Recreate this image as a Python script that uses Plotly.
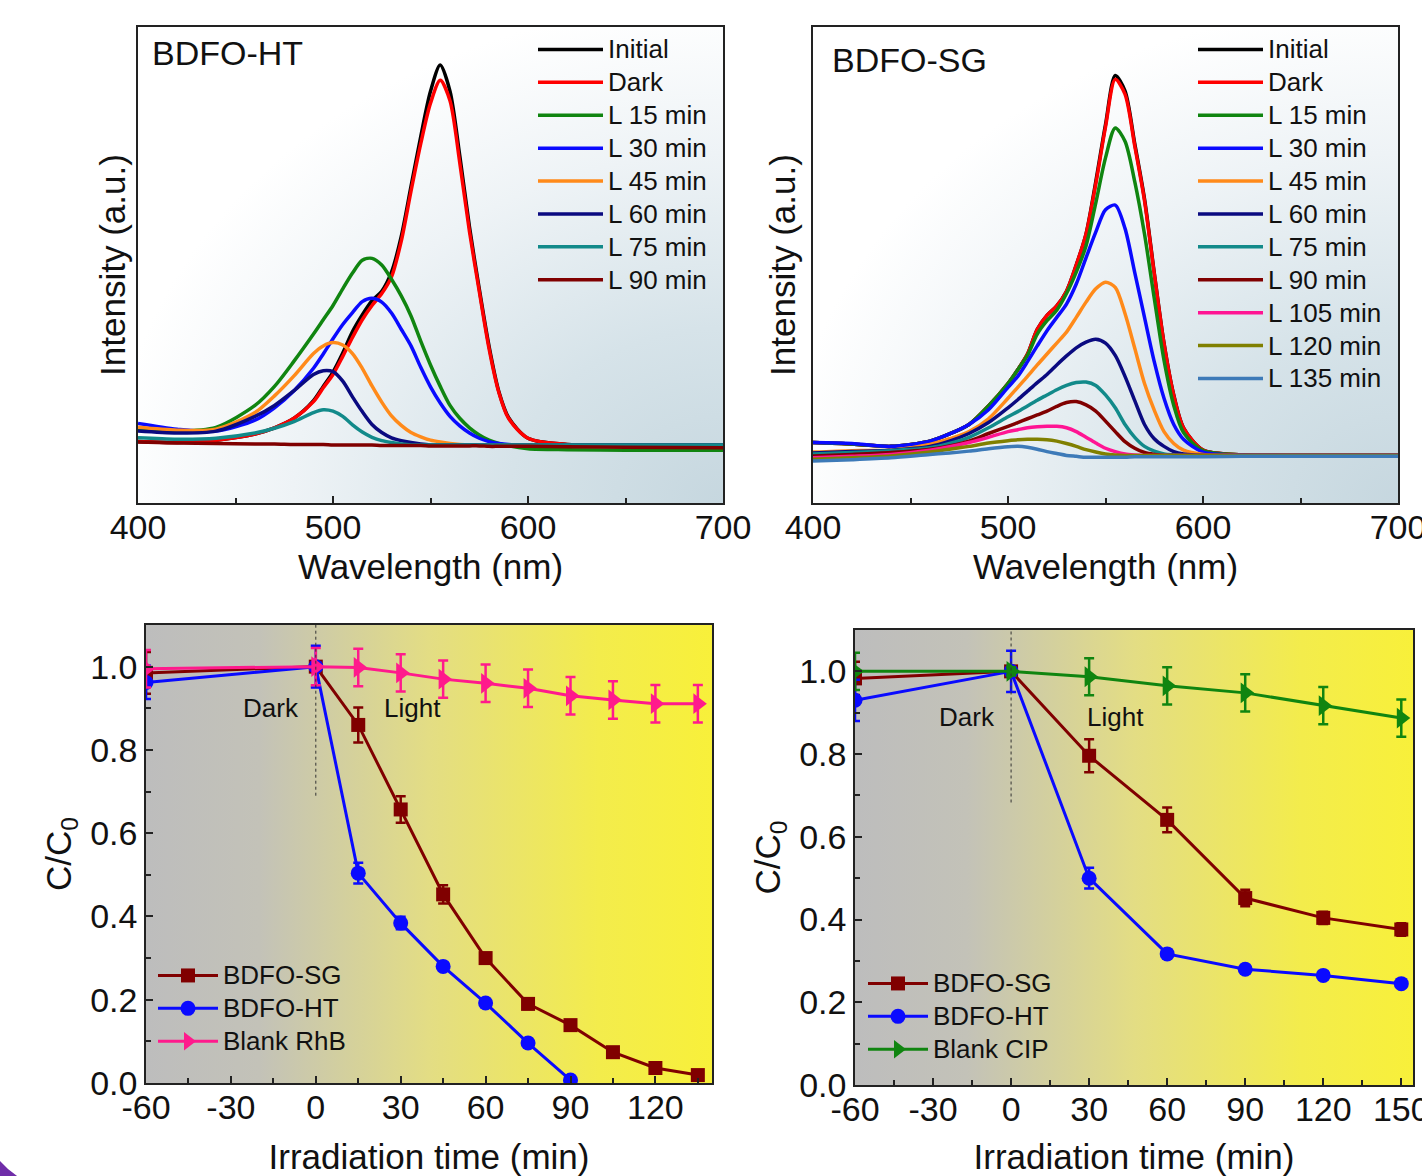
import base64
import plotly.graph_objects as go

# ---------------- data ----------------
# Top-left: BDFO-HT spectra (arbitrary intensity units)
wl_ht = [400, 420, 440, 460, 470, 480, 490, 495, 500, 505, 510, 515, 520, 525, 530,
         535, 540, 545, 550, 555, 560, 565, 570, 575, 580, 585, 590, 600, 620, 650, 700]
ht_initial = [12.9, 12.7, 13.2, 14.5, 15.8, 17.8, 21.5, 24.5, 27.5, 31.5, 36.0, 39.5, 42.5, 44.5, 48.5,
              56.0, 66.5, 77.0, 86.5, 92.0, 86.5, 73.0, 58.0, 45.0, 33.0, 23.5, 18.0, 13.6, 12.3, 12.2, 12.2]
ht_dark = [12.9, 12.7, 13.2, 14.5, 15.8, 17.8, 21.3, 24.2, 27.0, 30.8, 34.8, 38.5, 41.5, 44.0, 47.5,
           55.0, 65.5, 75.5, 84.0, 88.8, 84.5, 71.5, 57.0, 44.5, 32.5, 23.3, 17.8, 13.6, 12.3, 12.2, 12.2]
ht_l15 = [15.5, 15.1, 15.9, 20.5, 24.5, 29.8, 35.5, 38.5, 41.5, 45.0, 48.3, 51.0, 51.4, 50.0, 47.0,
          43.5, 39.3, 34.0, 29.0, 24.5, 20.5, 17.8, 15.8, 14.3, 13.2, 12.5, 12.0, 11.4, 11.2, 11.1, 11.1]
ht_l30 = [16.7, 15.5, 15.1, 17.4, 20.0, 23.6, 28.3, 31.3, 34.5, 37.5, 40.0, 42.3, 43.0, 42.2, 39.9,
          36.5, 33.0, 28.5, 24.4, 21.0, 18.2, 16.2, 14.7, 13.6, 12.9, 12.5, 12.3, 12.2, 12.2, 12.2, 12.2]
ht_l45 = [15.9, 15.3, 15.5, 19.0, 22.5, 26.7, 31.4, 33.0, 33.7, 33.2, 31.4, 28.3, 24.6, 21.2, 18.3,
          16.3, 14.8, 13.9, 13.2, 12.8, 12.5, 12.3, 12.2, 12.2, 12.2, 12.2, 12.2, 12.2, 12.2, 12.2, 12.2]
ht_l60 = [15.1, 14.7, 15.1, 18.2, 20.5, 23.6, 27.0, 27.8, 27.6, 25.6, 22.3, 19.2, 16.5, 14.8, 13.7,
          13.1, 12.7, 12.4, 12.2, 12.2, 12.2, 12.2, 12.2, 12.2, 12.2, 12.2, 12.2, 12.2, 12.2, 12.2, 12.2]
ht_l75 = [13.7, 13.4, 13.6, 14.7, 15.7, 17.1, 19.0, 19.6, 19.3, 18.2, 16.4, 14.9, 13.8, 13.1, 12.7,
          12.4, 12.2, 12.2, 12.2, 12.2, 12.2, 12.2, 12.2, 12.2, 12.2, 12.2, 12.2, 12.2, 12.2, 12.2, 12.2]
ht_l90 = [12.8, 12.6, 12.5, 12.4, 12.4, 12.3, 12.3, 12.3, 12.2, 12.2, 12.2, 12.2, 12.2, 12.1, 12.1,
          12.1, 12.1, 12.1, 12.0, 12.0, 12.0, 12.0, 12.0, 12.0, 11.9, 11.9, 11.9, 11.9, 11.8, 11.7, 11.6]

# Top-right: BDFO-SG spectra
wl_sg = [400, 420, 440, 460, 470, 480, 490, 500, 505, 510, 515, 520, 525, 530, 535, 540,
         545, 550, 555, 560, 565, 570, 575, 580, 585, 590, 600, 620, 650, 700]
sg_initial = [12.7, 12.4, 11.9, 13.0, 14.5, 16.5, 20.4, 25.1, 28.0, 31.3, 36.5, 39.4, 41.4, 44.5, 50.0, 56.5,
              67.5, 79.5, 89.8, 86.6, 75.5, 63.9, 48.4, 33.6, 22.7, 15.8, 11.1, 10.1, 10.0, 10.0]
sg_dark = [12.7, 12.4, 11.9, 13.0, 14.5, 16.5, 20.4, 25.1, 28.0, 31.3, 36.5, 39.4, 41.4, 44.5, 50.0, 56.5,
           67.0, 79.0, 89.0, 85.9, 75.0, 63.5, 48.2, 33.5, 22.6, 15.8, 11.1, 10.1, 10.0, 10.0]
sg_l15 = [12.7, 12.4, 11.9, 13.0, 14.5, 16.5, 20.4, 25.1, 28.0, 31.0, 35.5, 38.3, 40.5, 44.0, 48.5, 54.0,
          63.0, 72.5, 78.8, 76.0, 67.5, 56.5, 43.0, 30.0, 20.5, 14.8, 11.0, 10.1, 10.0, 10.0]
sg_l30 = [12.7, 12.5, 11.9, 13.0, 14.5, 16.5, 19.6, 24.3, 26.6, 29.7, 33.0, 36.2, 39.0, 41.8, 46.0, 51.5,
          56.9, 61.6, 62.6, 57.7, 48.4, 39.0, 29.7, 22.0, 16.5, 13.4, 10.7, 10.1, 10.0, 10.0]
sg_l45 = [10.7, 11.0, 11.1, 12.3, 13.5, 15.0, 17.7, 22.0, 24.3, 26.6, 29.0, 31.3, 33.6, 35.9, 39.0, 42.2,
          45.0, 46.4, 45.3, 39.8, 32.5, 25.1, 19.5, 15.0, 12.5, 11.1, 10.2, 10.0, 10.0, 10.0]
sg_l60 = [10.5, 10.8, 11.1, 11.9, 13.0, 14.6, 16.9, 20.0, 21.7, 23.5, 25.3, 27.0, 29.0, 30.9, 32.6, 33.8,
          34.4, 33.6, 31.0, 26.6, 21.5, 16.5, 13.5, 11.9, 10.8, 10.3, 10.0, 10.0, 10.0, 10.0]
sg_l75 = [10.3, 10.6, 11.0, 11.6, 12.5, 13.8, 15.8, 18.1, 19.2, 20.4, 21.6, 22.7, 23.8, 24.7, 25.3, 25.4,
          24.7, 22.7, 20.0, 16.5, 13.8, 11.9, 10.9, 10.3, 10.1, 10.0, 10.0, 10.0, 10.0, 10.0]
sg_l90 = [9.9, 10.2, 10.6, 11.3, 12.0, 13.0, 14.6, 16.1, 16.9, 17.7, 18.5, 19.3, 20.3, 21.1, 21.3, 20.6,
          19.3, 17.2, 15.0, 12.9, 11.5, 10.6, 10.2, 10.0, 10.0, 10.0, 10.0, 10.0, 10.0, 10.0]
sg_l105 = [9.5, 9.8, 10.2, 11.1, 11.8, 12.7, 13.8, 15.0, 15.4, 15.8, 16.0, 16.1, 16.1, 15.8, 15.0, 13.8,
           12.6, 11.5, 10.8, 10.3, 10.1, 10.0, 10.0, 10.0, 10.0, 10.0, 10.0, 10.0, 10.0, 10.0]
sg_l120 = [9.2, 9.5, 9.9, 10.7, 11.3, 11.9, 12.6, 13.1, 13.3, 13.4, 13.4, 13.3, 13.0, 12.5, 11.9, 11.2,
           10.7, 10.3, 10.1, 10.0, 10.0, 10.0, 10.0, 10.0, 10.0, 10.0, 10.0, 10.0, 10.0, 10.0]
sg_l135 = [8.8, 9.1, 9.5, 10.2, 10.5, 10.9, 11.4, 11.8, 11.9, 11.7, 11.3, 10.8, 10.4, 10.0, 9.8, 9.6,
           9.6, 9.6, 9.6, 9.6, 9.7, 9.7, 9.7, 9.7, 9.7, 9.7, 9.7, 9.8, 9.8, 9.8]

# Bottom-left: RhB degradation
t_rhb = [-60, 0, 15, 30, 45, 60, 75, 90, 105, 120, 135]
rhb_sg = [0.985, 1.0, 0.86, 0.657, 0.453, 0.30, 0.19, 0.139, 0.074, 0.036, 0.019]
rhb_sg_err = [0.05, 0.01, 0.042, 0.032, 0.022, 0.012, 0.012, 0.012, 0.01, 0.01, 0.01]
t_rhb_ht = [-60, 0, 15, 30, 45, 60, 75, 90]
rhb_ht = [0.962, 1.0, 0.504, 0.384, 0.28, 0.192, 0.096, 0.007]
rhb_ht_err = [0.04, 0.05, 0.025, 0.015, 0.01, 0.01, 0.01, 0.01]
rhb_blank = [0.995, 1.0, 0.998, 0.985, 0.97, 0.96, 0.948, 0.93, 0.92, 0.911, 0.911]
rhb_blank_err = [0.045] * 11

# Bottom-right: CIP degradation
t_cip = [-60, 0, 30, 60, 90, 120, 150]
cip_sg = [0.983, 1.0, 0.796, 0.641, 0.452, 0.404, 0.376]
cip_sg_err = [0.04, 0.01, 0.04, 0.03, 0.02, 0.015, 0.015]
cip_ht = [0.93, 1.0, 0.50, 0.317, 0.28, 0.265, 0.245]
cip_ht_err = [0.05, 0.05, 0.025, 0.01, 0.01, 0.01, 0.01]
cip_blank = [1.0, 1.0, 0.987, 0.965, 0.948, 0.917, 0.887]
cip_blank_err = [0.045, 0.01, 0.045, 0.045, 0.045, 0.045, 0.045]

ht_names = ["Initial", "Dark", "L 15 min", "L 30 min", "L 45 min", "L 60 min", "L 75 min", "L 90 min"]
sg_names = ["Initial", "Dark", "L 15 min", "L 30 min", "L 45 min", "L 60 min", "L 75 min", "L 90 min",
            "L 105 min", "L 120 min", "L 135 min"]

# tick labels
wl_ticks = [400, 500, 600, 700]
wl_ticktext = ["400", "500", "600", "700"]
t_ticks_rhb = [-60, -30, 0, 30, 60, 90, 120]
t_ticktext_rhb = ["-60", "-30", "0", "30", "60", "90", "120"]
t_ticks_cip = [-60, -30, 0, 30, 60, 90, 120, 150]
t_ticktext_cip = ["-60", "-30", "0", "30", "60", "90", "120", "150"]
c_ticks = [0, 0.2, 0.4, 0.6, 0.8, 1.0]
c_ticktext = ["0.0", "0.2", "0.4", "0.6", "0.8", "1.0"]

# ---------------- style ----------------
FONT = "Liberation Sans, Arial, sans-serif"
spec_colors = ["#000000", "#ff0000", "#108510", "#0a0aff", "#ff8a1a", "#0a0a80",
               "#128a8a", "#800000", "#ff1493", "#808000", "#3d7ab8"]
C_SG = "#800000"
C_HT = "#0a0aff"
C_RHB = "#ff1a8c"
C_CIP = "#108510"


def lg_name(s):
    return "<span style='font-size:26px'>%s</span>" % s


fig = go.Figure()

ht_series = [ht_initial, ht_dark, ht_l15, ht_l30, ht_l45, ht_l60, ht_l75, ht_l90]
for i, (name, ys) in enumerate(zip(ht_names, ht_series)):
    fig.add_trace(go.Scatter(x=wl_ht, y=ys, name=lg_name(name), mode="lines",
                             line=dict(color=spec_colors[i], width=3.5, shape="spline", smoothing=0.8),
                             xaxis="x", yaxis="y", legend="legend"))

sg_series = [sg_initial, sg_dark, sg_l15, sg_l30, sg_l45, sg_l60, sg_l75, sg_l90, sg_l105, sg_l120, sg_l135]
for i, (name, ys) in enumerate(zip(sg_names, sg_series)):
    fig.add_trace(go.Scatter(x=wl_sg, y=ys, name=lg_name(name), mode="lines",
                             line=dict(color=spec_colors[i], width=3.5, shape="spline", smoothing=0.8),
                             xaxis="x2", yaxis="y2", legend="legend2"))


def deg_trace(x, y, err, name, color, symbol, size, xa, ya, lg):
    return go.Scatter(x=x, y=y, name=lg_name(name), mode="lines+markers",
                      line=dict(color=color, width=3),
                      marker=dict(color=color, symbol=symbol, size=size),
                      error_y=dict(type="data", array=err, color=color, thickness=2.5, width=5),
                      xaxis=xa, yaxis=ya, legend=lg)


fig.add_trace(deg_trace(t_rhb, rhb_sg, rhb_sg_err, "BDFO-SG", C_SG, "square", 14, "x3", "y3", "legend3"))
fig.add_trace(deg_trace(t_rhb_ht, rhb_ht, rhb_ht_err, "BDFO-HT", C_HT, "circle", 15, "x3", "y3", "legend3"))
fig.add_trace(deg_trace(t_rhb, rhb_blank, rhb_blank_err, "Blank RhB", C_RHB, "triangle-right", 18, "x3", "y3", "legend3"))

fig.add_trace(deg_trace(t_cip, cip_sg, cip_sg_err, "BDFO-SG", C_SG, "square", 14, "x4", "y4", "legend4"))
fig.add_trace(deg_trace(t_cip, cip_ht, cip_ht_err, "BDFO-HT", C_HT, "circle", 15, "x4", "y4", "legend4"))
fig.add_trace(deg_trace(t_cip, cip_blank, cip_blank_err, "Blank CIP", C_CIP, "triangle-right", 18, "x4", "y4", "legend4"))

W, H = 1422, 1176


def dom_x(a, b):
    return [a / W, b / W]


def dom_y(top, bottom):
    return [1 - bottom / H, 1 - top / H]


TICKC = "#222222"
axis_common = dict(showline=True, linecolor=TICKC, linewidth=1.5, mirror=True,
                   showgrid=False, zeroline=False, automargin=False,
                   tickfont=dict(family=FONT, size=34, color="#111111"),
                   title_font=dict(family=FONT, size=35, color="#111111"))

spec_x = dict(axis_common, range=[400, 700], tickvals=wl_ticks, ticktext=wl_ticktext, ticks="inside",
              ticklen=7, tickwidth=1.5, tickcolor=TICKC, ticklabelstandoff=-7, ticklabeloverflow="allow",
              minor=dict(tickvals=[450, 550, 650], ticks="inside", ticklen=5, tickwidth=1.5, tickcolor=TICKC),
              title=dict(text="Wavelength (nm)", standoff=10))
spec_y = dict(axis_common, range=[0, 100], showticklabels=False, ticks="")

deg_x = dict(axis_common, ticks="inside", ticklen=7, tickwidth=1.5, tickcolor=TICKC, ticklabelstandoff=-7,
             ticklabeloverflow="allow",
             minor=dict(dtick=15, tick0=-60, ticks="inside", ticklen=5, tickwidth=1.5, tickcolor=TICKC),
             title=dict(text="Irradiation time (min)", standoff=20))
deg_y = dict(axis_common, range=[0, 1.1], tickvals=c_ticks, ticktext=c_ticktext, ticks="inside",
             ticklen=7, tickwidth=1.5, tickcolor=TICKC,
             minor=dict(dtick=0.1, tick0=0, ticks="inside", ticklen=5, tickwidth=1.5, tickcolor=TICKC),
             title=dict(text="C/C<sub>0</sub>", standoff=8))

legend_common = dict(xanchor="left", yanchor="top", bgcolor="rgba(0,0,0,0)", borderwidth=0,
                     font=dict(family=FONT, size=23, color="#111111"), tracegroupgap=0)

fig.update_layout(
    width=W, height=H, margin=dict(l=0, r=0, t=0, b=0, pad=0, autoexpand=False),
    paper_bgcolor="white", plot_bgcolor="rgba(0,0,0,0)",
    font=dict(family=FONT, color="#111111"),
    xaxis=dict(spec_x, domain=dom_x(138, 723), anchor="y"),
    yaxis=dict(spec_y, domain=dom_y(27, 503), anchor="x",
               title=dict(text="Intensity (a.u.)", standoff=0)),
    xaxis2=dict(spec_x, domain=dom_x(813, 1398), anchor="y2"),
    yaxis2=dict(spec_y, domain=dom_y(27, 503), anchor="x2",
                title=dict(text="Intensity (a.u.)", standoff=5)),
    xaxis3=dict(deg_x, range=[-60, 140], tickvals=t_ticks_rhb, ticktext=t_ticktext_rhb,
                domain=dom_x(146, 712), anchor="y3"),
    yaxis3=dict(deg_y, domain=dom_y(625, 1083), anchor="x3"),
    xaxis4=dict(deg_x, range=[-60, 154.5], tickvals=t_ticks_cip, ticktext=t_ticktext_cip,
                domain=dom_x(855, 1413), anchor="y4"),
    yaxis4=dict(deg_y, domain=dom_y(630, 1085), anchor="x4"),
    legend=dict(legend_common, x=533 / W, y=1 - 28 / H, itemwidth=65),
    legend2=dict(legend_common, x=1193 / W, y=1 - 28 / H, itemwidth=65),
    legend3=dict(legend_common, x=153 / W, y=1 - 954 / H, itemwidth=60),
    legend4=dict(legend_common, x=863 / W, y=1 - 962 / H, itemwidth=60),
    showlegend=True,
)


def svg_uri(svg):
    return "data:image/svg+xml;base64," + base64.b64encode(svg.encode("utf-8")).decode("ascii")


top_bg = svg_uri(
    "<svg xmlns='http://www.w3.org/2000/svg' width='200' height='200' viewBox='0 0 200 200' "
    "preserveAspectRatio='none'><defs><radialGradient id='g' cx='1' cy='1' r='1.05' fx='1' fy='1'>"
    "<stop offset='0' stop-color='#c6d7df'/><stop offset='0.35' stop-color='#d6e3e9'/>"
    "<stop offset='0.7' stop-color='#eef3f6'/><stop offset='1' stop-color='#ffffff'/>"
    "</radialGradient></defs><rect width='200' height='200' fill='url(#g)'/></svg>")
bottom_bg = svg_uri(
    "<svg xmlns='http://www.w3.org/2000/svg' width='200' height='200' viewBox='0 0 200 200' "
    "preserveAspectRatio='none'><defs><linearGradient id='g' x1='0' y1='0' x2='1' y2='0'>"
    "<stop offset='0' stop-color='#bdbdbd'/><stop offset='0.2' stop-color='#c3c2b8'/>"
    "<stop offset='0.5' stop-color='#e3dd84'/><stop offset='0.8' stop-color='#f3ec4c'/>"
    "<stop offset='1' stop-color='#f8f03a'/></linearGradient></defs>"
    "<rect width='200' height='200' fill='url(#g)'/></svg>")

images = []
for ax, src in [("", top_bg), ("2", top_bg), ("3", bottom_bg), ("4", bottom_bg)]:
    images.append(dict(source=src, xref="x%s domain" % ax, yref="y%s domain" % ax,
                       x=0, y=1, sizex=1, sizey=1, xanchor="left", yanchor="top",
                       sizing="stretch", layer="below"))
fig.update_layout(images=images)

annotations = [
    dict(text="BDFO-HT", xref="x domain", yref="y domain", x=0.02, y=0.945, xanchor="left",
         yanchor="middle", showarrow=False, font=dict(family=FONT, size=34, color="#111111")),
    dict(text="BDFO-SG", xref="x2 domain", yref="y2 domain", x=0.029, y=0.931, xanchor="left",
         yanchor="middle", showarrow=False, font=dict(family=FONT, size=34, color="#111111")),
    dict(text="Dark", xref="x3", yref="y3", x=-16, y=0.90, showarrow=False,
         font=dict(family=FONT, size=26, color="#111111")),
    dict(text="Light", xref="x3", yref="y3", x=34, y=0.90, showarrow=False,
         font=dict(family=FONT, size=26, color="#111111")),
    dict(text="Dark", xref="x4", yref="y4", x=-17, y=0.889, showarrow=False,
         font=dict(family=FONT, size=26, color="#111111")),
    dict(text="Light", xref="x4", yref="y4", x=40, y=0.889, showarrow=False,
         font=dict(family=FONT, size=26, color="#111111")),
]
fig.update_layout(annotations=annotations)

shapes = [
    dict(type="line", xref="x3", yref="y3", x0=0, x1=0, y0=0.69, y1=1.1,
         line=dict(color="#333333", width=1, dash="dot")),
    dict(type="line", xref="x4", yref="y4", x0=0, x1=0, y0=0.683, y1=1.1,
         line=dict(color="#333333", width=1, dash="dot")),
    dict(type="path", xref="paper", yref="paper",
         path="M 0 %.4f Q %.4f %.4f %.4f 0 L 0 0 Z" % (15 / H, 7 / W, 7 / H, 17 / W),
         fillcolor="#6f2da8", line=dict(width=0)),
]
fig.update_layout(shapes=shapes)

fig.write_html("out.html", config={"displayModeBar": False},
               post_script="document.body.style.margin='0';document.body.style.overflow='hidden';")
